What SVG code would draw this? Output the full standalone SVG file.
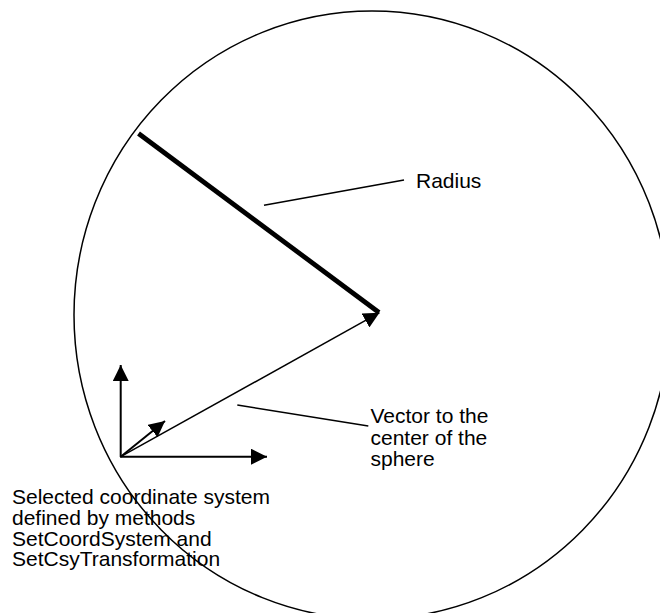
<svg xmlns="http://www.w3.org/2000/svg" width="660" height="613" viewBox="0 0 660 613">
<defs>
<style>
.t{font-family:"Liberation Sans",Arial,sans-serif;font-size:21px;fill:#000}
.thin{stroke:#000;stroke-width:1.5;fill:none}
.axis{stroke:#000;stroke-width:2;fill:none}
</style>
<marker id="ah" viewBox="0 0 16 16" refX="16" refY="8" markerWidth="16" markerHeight="16" markerUnits="userSpaceOnUse" orient="auto">
<path d="M0,0 L16,8 L0,16 Z" fill="#000"/>
</marker>
</defs>
<rect width="660" height="613" fill="#fff"/>
<g id="sphere">
<ellipse cx="372" cy="315" rx="298" ry="304" class="thin"/>
</g>
<g id="radius">
<line x1="138.5" y1="133.5" x2="379" y2="312.5" stroke="#000" stroke-width="4.8"/>
</g>
<g id="coordinate-system">
<line x1="120.7" y1="457" x2="120.7" y2="365" class="axis" marker-end="url(#ah)"/>
<line x1="120" y1="456.7" x2="267" y2="456.7" class="axis" marker-end="url(#ah)"/>
<line x1="120.7" y1="456.7" x2="165" y2="421" class="axis" marker-end="url(#ah)"/>
</g>
<g id="connectors">
<line x1="120.7" y1="456.7" x2="379.5" y2="312.7" class="thin" marker-end="url(#ah)"/>
<line x1="264" y1="205.3" x2="404" y2="180" class="thin"/>
<line x1="237.3" y1="405" x2="368.3" y2="426" class="thin"/>
</g>
<g id="label-radius">
<text class="t" x="416" y="188.3">Radius</text>
</g>
<g id="label-vector">
<text class="t" x="370.5" y="423.3">Vector to the</text>
<text class="t" x="370.5" y="444.5">center of the</text>
<text class="t" x="370.5" y="465.7">sphere</text>
</g>
<g id="label-csys">
<text class="t" x="12" y="504.3">Selected coordinate system</text>
<text class="t" x="12" y="525">defined by methods</text>
<text class="t" x="12" y="545.7">SetCoordSystem and</text>
<text class="t" x="12" y="566.4">SetCsyTransformation</text>
</g>
</svg>
